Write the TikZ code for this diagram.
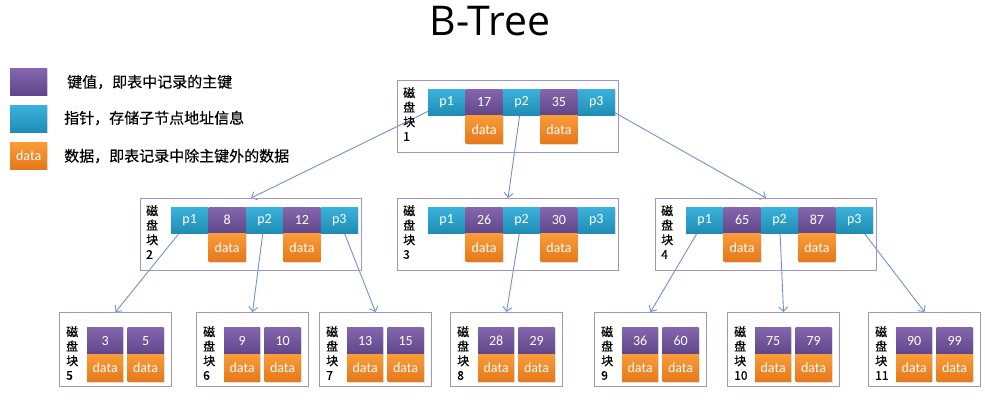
\documentclass[tikz,border=0pt]{standalone}
\usepackage{fontspec}
\setmainfont{Carlito}
\newfontfamily\cjk{Noto Sans CJK SC}
\newfontfamily\cjklabel{Noto Sans CJK SC}[FakeBold=0.8]
\newfontfamily\cjklegend{Noto Sans CJK SC}[FakeBold=0.3]
\newfontfamily\titlefont{Open Sans}
\usetikzlibrary{arrows.meta,shadows,positioning}
\pgfdeclarelayer{background}
\pgfsetlayers{background,main}
\definecolor{keyA}{HTML}{8566AE}
\definecolor{keyB}{HTML}{5F4689}
\definecolor{ptrA}{HTML}{3AB2DC}
\definecolor{ptrB}{HTML}{1F8DB3}
\definecolor{datA}{HTML}{F99C38}
\definecolor{datB}{HTML}{E5781A}
\definecolor{boxc}{HTML}{A095C8}
\definecolor{arrc}{HTML}{6F93CC}
\tikzset{
  cell/.style={rectangle, inner sep=0pt, minimum width=37pt, minimum height=26pt,
    text=white, font=\fontsize{14}{14}\selectfont,
    drop shadow={shadow xshift=1pt, shadow yshift=-1.2pt, opacity=0.25}},
  keycell/.style={cell, top color=keyA, bottom color=keyB},
  ptrcell/.style={cell, top color=ptrA, bottom color=ptrB},
  datacell/.style={cell, top color=datA, bottom color=datB, minimum height=28pt},
  blockbox/.style={draw=boxc, line width=1.1pt, inner sep=0pt, anchor=north west},
  blocklabel/.style={anchor=north west, inner sep=0pt, align=left,
    font=\cjklabel\fontsize{12}{14.5}\selectfont},
  link/.style={draw=arrc, line width=0.9pt, -{Straight Barb[length=4.5pt,width=9pt]}},
  legendtext/.style={anchor=west, inner sep=0pt, font=\cjklegend\fontsize{15}{15}\selectfont}
}
% #1 name, #2 left, #3 top, #4 number, #5 key1, #6 key2
\newcommand\innerblock[6]{%
  \node[blockbox, minimum width=221pt, minimum height=72pt] (#1) at (#2,#3) {};
  \node[blocklabel] (#1l) at (#2+6,#3+7) {磁\\盘\\块\\#4};
  \node[ptrcell, anchor=north west] (#1p1) at (#2+31,#3+9) {p1};
  \node[keycell, right=0pt of #1p1] (#1k1) {#5};
  \node[ptrcell, right=0pt of #1k1] (#1p2) {p2};
  \node[keycell, right=0pt of #1p2] (#1k2) {#6};
  \node[ptrcell, right=0pt of #1k2] (#1p3) {p3};
  \node[datacell, below=0pt of #1k1] (#1d1) {data};
  \node[datacell, below=0pt of #1k2] (#1d2) {data};
}
% #1 name, #2 left, #3 number, #4 key1, #5 key2
\newcommand\leafblock[5]{%
  \node[blockbox, minimum width=112pt, minimum height=74pt] (#1) at (#2,312) {};
  \node[blocklabel] (#1l) at (#2+7,312+14) {磁\\盘\\块\\#3};
  \node[keycell, anchor=north west, minimum width=36pt, minimum height=27pt] (#1k1) at (#2+28,312+15) {#4};
  \node[keycell, minimum width=36pt, minimum height=27pt, right=4pt of #1k1] (#1k2) {#5};
  \node[datacell, minimum width=36pt, minimum height=27pt, below=0pt of #1k1] (#1d1) {data};
  \node[datacell, minimum width=36pt, minimum height=27pt, below=0pt of #1k2] (#1d2) {data};
}
\begin{document}
\begin{tikzpicture}[x=1pt, y=-1pt]
  \useasboundingbox (0,0) rectangle (985,403);
  % title
  \node[font=\titlefont\fontsize{41}{41}\selectfont, inner sep=0pt] (title) at (490,21) {B-Tree};
  % legend
  \node[keycell, anchor=north west, minimum width=37pt, minimum height=27pt] (lgk) at (10,68) {};
  \node[ptrcell, anchor=north west, minimum width=37pt, minimum height=27pt] (lgp) at (10,105) {};
  \node[datacell, anchor=north west, minimum width=37pt, minimum height=27pt] (lgd) at (10,142) {data};
  \node[legendtext] (lgkt) at (67,82) {键值，即表中记录的主键};
  \node[legendtext] (lgpt) at (64,118) {指针，存储子节点地址信息};
  \node[legendtext] (lgdt) at (64,156) {数据，即表记录中除主键外的数据};
  % blocks
  \innerblock{b1}{397}{80}{1}{17}{35}
  \innerblock{b2}{140}{198}{2}{8}{12}
  \innerblock{b3}{397}{198}{3}{26}{30}
  \innerblock{b4}{655}{198}{4}{65}{87}
  \leafblock{b5}{59}{5}{3}{5}
  \leafblock{b6}{196}{6}{9}{10}
  \leafblock{b7}{319}{7}{13}{15}
  \leafblock{b8}{450}{8}{28}{29}
  \leafblock{b9}{594}{9}{36}{60}
  \leafblock{b10}{727}{10}{75}{79}
  \leafblock{b11}{868}{11}{90}{99}
  % links
  \begin{pgfonlayer}{background}
    \draw[link] (b1p1.center) -- (b2.north);
    \draw[link] (b1p2.center) -- (b3.north);
    \draw[link] (b1p3.center) -- (b4.north);
    \draw[link] (b2p1.center) -- (b5.north);
    \draw[link] (b2p2.center) -- (b6.north);
    \draw[link] (b2p3.center) -- (b7.north);
    \draw[link] (b3p2.center) -- (b8.north);
    \draw[link] (b4p1.center) -- (b9.north);
    \draw[link] (b4p2.center) -- (b10.north);
    \draw[link] (b4p3.center) -- (b11.north);
  \end{pgfonlayer}
\end{tikzpicture}
\end{document}
